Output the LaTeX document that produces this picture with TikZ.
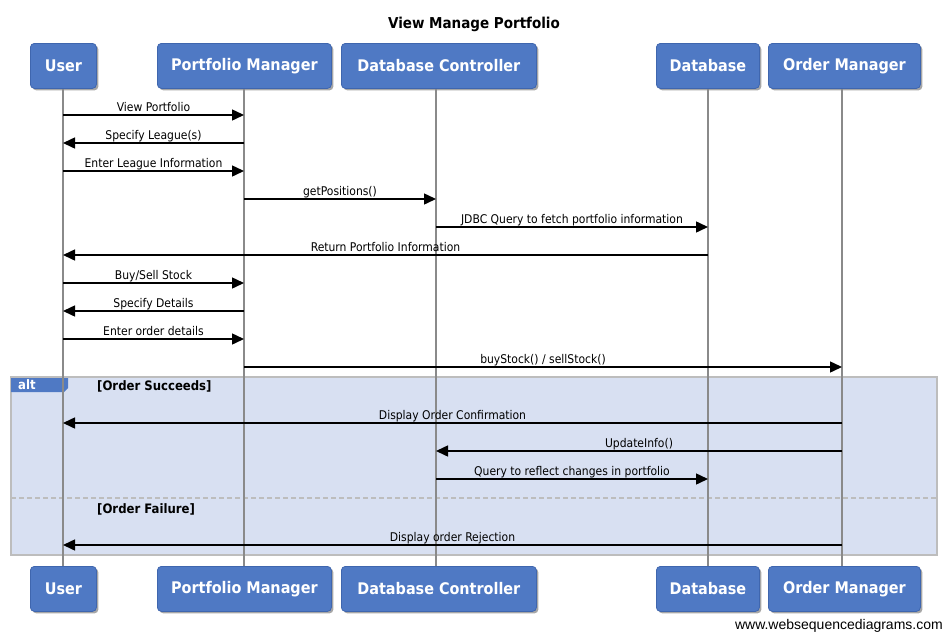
\documentclass[tikz,border=0pt]{standalone}
\usepackage{fontspec}
\setmainfont{DejaVu Sans}
\newfontfamily\lblfont{DejaVu Sans Condensed}
\newfontfamily\webfont{Liberation Sans}
\usetikzlibrary{arrows.meta,shadows}
\definecolor{boxblue}{HTML}{4F79C4}
\definecolor{boxedge}{HTML}{3F66AE}
\definecolor{altfill}{HTML}{D8E0F2}
\definecolor{altedge}{HTML}{BDBDBD}
\definecolor{lifegray}{HTML}{8A8A8A}
\tikzset{
  actor/.style={draw=boxedge, fill=boxblue, rounded corners=4pt, line width=0.8pt,
    text=white, font=\fontsize{16}{18}\selectfont\bfseries\lblfont,
    drop shadow={shadow xshift=2pt, shadow yshift=-2pt, fill=black, opacity=0.35},
    minimum height=45pt, inner sep=0pt, anchor=north west},
  life/.style={draw=lifegray, line width=1.4pt},
  msg/.style={draw=black, line width=1.5pt, -{Triangle[length=12pt,width=11pt]}},
  mlabel/.style={font=\fontsize{12}{14}\selectfont\lblfont, anchor=base, inner sep=0pt, yshift=4pt},
  guard/.style={font=\fontsize{13}{15}\selectfont\bfseries\lblfont, anchor=base west, inner sep=0pt},
}
\begin{document}
\begin{tikzpicture}[x=1pt,y=-1pt]
\useasboundingbox (0,0) rectangle (946,632);
\fill[white] (0,0) rectangle (946,632);
% title
\node[font=\fontsize{15}{17}\selectfont\bfseries\lblfont, anchor=base] (title) at (474,28) {View Manage Portfolio};
% alt frame
\draw[fill=altfill, draw=altedge, line width=1.5pt] (11,377) rectangle (937,555);
\fill[boxblue] (11,378) -- (68,378) -- (68,388) -- (64,392) -- (11,392) -- cycle;
\node[font=\fontsize{13}{15}\selectfont\bfseries\lblfont, text=white, anchor=base west, inner sep=0pt] (altlbl) at (18,389) {alt};
\draw[altedge, line width=1.2pt, dash pattern=on 5pt off 3pt] (11,498) -- (937,498);
\node[guard] (g1) at (97,390) {[Order Succeeds]};
\node[guard] (g2) at (97,513) {[Order Failure]};
% top actors
\node[actor, minimum width=66pt] (uT) at (30,43) {User};
\node[actor, minimum width=174pt] (pT) at (157,43) {Portfolio Manager};
\node[actor, minimum width=195pt] (cT) at (341,43) {Database Controller};
\node[actor, minimum width=103pt] (dT) at (656,43) {Database};
\node[actor, minimum width=152pt] (oT) at (768,43) {Order Manager};
% bottom actors
\node[actor, minimum width=66pt] (uB) at (30,566) {User};
\node[actor, minimum width=174pt] (pB) at (157,566) {Portfolio Manager};
\node[actor, minimum width=195pt] (cB) at (341,566) {Database Controller};
\node[actor, minimum width=103pt] (dB) at (656,566) {Database};
\node[actor, minimum width=152pt] (oB) at (768,566) {Order Manager};
% lifelines
\def\xu{63}\def\xp{244}\def\xc{436}\def\xd{708}\def\xo{842}
\draw[life] (\xu,89) -- (\xu,566);
\draw[life] (\xp,89) -- (\xp,566);
\draw[life] (\xc,89) -- (\xc,566);
\draw[life] (\xd,89) -- (\xd,566);
\draw[life] (\xo,89) -- (\xo,566);
% message coordinates
\foreach \n/\a/\b/\y in {m1/\xu/\xp/115, m2/\xp/\xu/143, m3/\xu/\xp/171, m4/\xp/\xc/199,
  m5/\xc/\xd/227, m6/\xd/\xu/255, m7/\xu/\xp/283, m8/\xp/\xu/311, m9/\xu/\xp/339,
  m10/\xp/\xo/367, m11/\xo/\xu/423, m12/\xo/\xc/451, m13/\xc/\xd/479, m14/\xo/\xu/545}
  {\coordinate (\n s) at (\a,\y); \coordinate (\n e) at (\b,\y);}
\draw[msg] (m1s) -- node[mlabel] {View Portfolio} (m1e);
\draw[msg] (m2s) -- node[mlabel] {Specify League(s)} (m2e);
\draw[msg] (m3s) -- node[mlabel] {Enter League Information} (m3e);
\draw[msg] (m4s) -- node[mlabel] {getPositions()} (m4e);
\draw[msg] (m5s) -- node[mlabel] {JDBC Query to fetch portfolio information} (m5e);
\draw[msg] (m6s) -- node[mlabel] {Return Portfolio Information} (m6e);
\draw[msg] (m7s) -- node[mlabel] {Buy/Sell Stock} (m7e);
\draw[msg] (m8s) -- node[mlabel] {Specify Details} (m8e);
\draw[msg] (m9s) -- node[mlabel] {Enter order details} (m9e);
\draw[msg] (m10s) -- node[mlabel] {buyStock() / sellStock()} (m10e);
\draw[msg] (m11s) -- node[mlabel] {Display Order Confirmation} (m11e);
\draw[msg] (m12s) -- node[mlabel] {UpdateInfo()} (m12e);
\draw[msg] (m13s) -- node[mlabel] {Query to reflect changes in portfolio} (m13e);
\draw[msg] (m14s) -- node[mlabel] {Display order Rejection} (m14e);
% footer
\node[font=\fontsize{14}{16}\selectfont\webfont, anchor=base east, inner sep=0pt] (web) at (943,629) {www.websequencediagrams.com};
\end{tikzpicture}
\end{document}
